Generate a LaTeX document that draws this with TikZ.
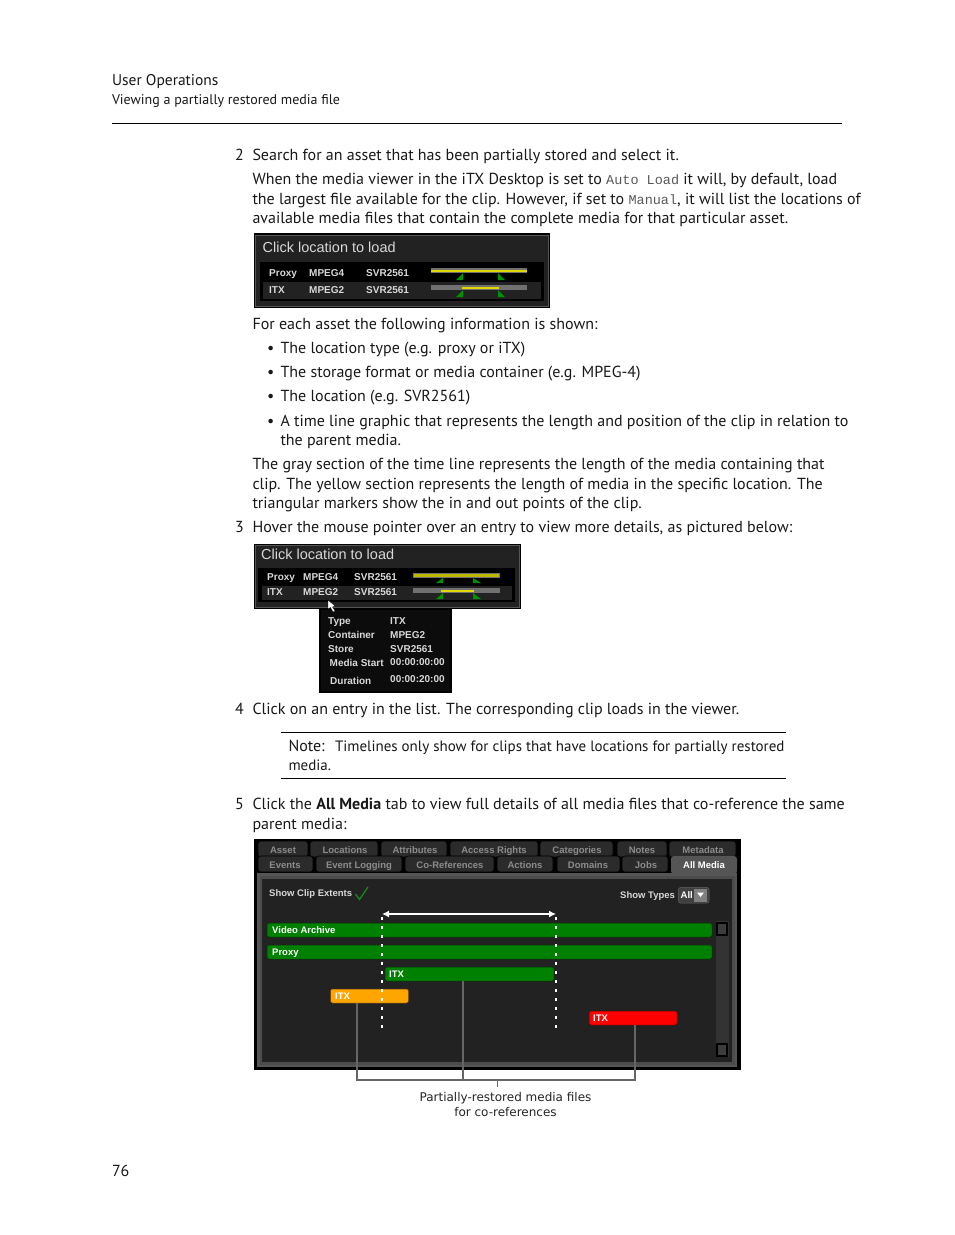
\documentclass[tikz,border=0pt]{standalone}
\usepackage{fontspec}
\setmainfont{PT Sans}
\setmonofont{Liberation Mono}
\newfontfamily\uifont{Liberation Sans}
\newfontfamily\capfont{DejaVu Sans}
\usetikzlibrary{arrows.meta}
\definecolor{panel}{HTML}{222222}
\definecolor{framegray}{HTML}{555555}
\definecolor{tabbg}{HTML}{2B2B2B}
\definecolor{uitext}{HTML}{D8D8D8}
\definecolor{tabtext}{HTML}{8C8C8C}
\definecolor{barg}{HTML}{008000}
\definecolor{baro}{HTML}{FFA500}
\definecolor{barr}{HTML}{FF0000}
\definecolor{tlgray}{HTML}{707070}
\definecolor{tlyellow}{HTML}{E0D800}
\definecolor{tri}{HTML}{009000}
\newcommand{\body}{\fontsize{16}{19}\selectfont}
\newcommand{\code}[1]{{\color{black!65}\ttfamily\fontsize{13.5}{16}\selectfont #1}}
\tikzset{
  txt/.style={anchor=base west,inner sep=0pt,outer sep=0pt,font=\body,text=black!90},
  hdr/.style={txt,font=\fontsize{14}{17}\selectfont},
  uit/.style={anchor=base west,inner sep=0pt,text=uitext,font=\uifont\bfseries\fontsize{10}{12}\selectfont},
  tlt/.style={anchor=base west,inner sep=0pt,text=uitext,font=\uifont\fontsize{14.5}{17}\selectfont},
  tabt/.style={anchor=base,inner sep=0pt,text=tabtext,font=\uifont\bfseries\fontsize{9.5}{12}\selectfont},
  tabbox/.style={fill=tabbg,draw=black,line width=.6pt,rounded corners=3pt},
  clipbar/.style={rectangle,rounded corners=2pt,inner sep=0pt,draw=black!60!#1,line width=.5pt,fill=#1},
  barlab/.style={anchor=base west,inner sep=0pt,text=white,font=\uifont\bfseries\fontsize{9.5}{12}\selectfont},
  callout/.style={draw=black!60,line width=1.2pt},
  dots/.style={draw=white,line width=1.4pt,dash pattern=on 3pt off 6pt},
  mark/.style={},
}
\begin{document}
\begin{tikzpicture}[x=1pt,y=-1pt]
\useasboundingbox (0,0) rectangle (954,1235);
\fill[white] (0,0) rectangle (954,1235);
% header
\node[txt,font=\fontsize{15.5}{18}\selectfont] (h1) at (112,85) {User Operations};
\node[hdr] (h2) at (112,104) {Viewing a partially restored media file};
\draw[black,line width=.8pt] (112,123.5) -- (842,123.5);
\node[txt] (n2) at (235,160) {2};
\node[txt] (l1) at (252.5,160) {Search for an asset that has been partially stored and select it.};
\node[txt] (l2) at (252.5,184) {When the media viewer in the iTX Desktop is set to \code{Auto Load} it will, by default, load};
\node[txt] (l3) at (252.5,204) {the largest file available for the clip. However, if set to \code{Manual}, it will list the locations of};
\node[txt] (l4) at (252.5,223) {available media files that contain the complete media for that particular asset.};
% panel 1
\fill[black] (254,233) rectangle (550,308);
\draw[framegray,line width=1pt,fill=panel] (255.5,235) rectangle (548.5,306);
\fill[black] (259,261) rectangle (545,302);
\draw[panel,line width=.8pt] (259.5,261.5) rectangle (544.5,301.5);
\fill[panel] (263,282) rectangle (541,299);
\node[tlt] (p1t) at (262.5,252) {Click location to load};
\node[uit] (p1a) at (269,276) {Proxy};
\node[uit] (p1b) at (309,276) {MPEG4};
\node[uit] (p1c) at (366,276) {SVR2561};
\node[uit] (p1d) at (269,293) {ITX};
\node[uit] (p1e) at (309,293) {MPEG2};
\node[uit] (p1f) at (366,293) {SVR2561};
\fill[tlgray] (431,268) rectangle (527,273);
\fill[tlyellow] (431,269.5) rectangle (527,271.5);
\fill[tlgray] (431,285) rectangle (527,290);
\fill[tlyellow] (462,286.5) rectangle (499,288.5);
\fill[tri] (456,280) -- (463,273) -- (463,280) -- cycle;
\fill[tri] (498,273) -- (505,280) -- (498,280) -- cycle;
\fill[tri] (456,297) -- (463,290) -- (463,297) -- cycle;
\fill[tri] (498,290) -- (505,297) -- (498,297) -- cycle;
% middle text
\node[txt] (l5) at (252.5,329) {For each asset the following information is shown:};
\node[txt] (b1) at (267,353) {•};
\node[txt] (l6) at (280.5,353) {The location type (e.g. proxy or iTX)};
\node[txt] (b2) at (267,377) {•};
\node[txt] (l7) at (280.5,377) {The storage format or media container (e.g. MPEG-4)};
\node[txt] (b3) at (267,401) {•};
\node[txt] (l8) at (280.5,401) {The location (e.g. SVR2561)};
\node[txt] (b4) at (267,426) {•};
\node[txt] (l9) at (280.5,426) {A time line graphic that represents the length and position of the clip in relation to};
\node[txt] (l10) at (280.5,445) {the parent media.};
\node[txt] (l11) at (252.5,469) {The gray section of the time line represents the length of the media containing that};
\node[txt] (l12) at (252.5,489) {clip. The yellow section represents the length of media in the specific location. The};
\node[txt] (l13) at (252.5,508) {triangular markers show the in and out points of the clip.};
\node[txt] (n3) at (235,532) {3};
\node[txt] (l14) at (252.5,532) {Hover the mouse pointer over an entry to view more details, as pictured below:};
% panel 2
\fill[black] (254,544) rectangle (521,609);
\draw[framegray,line width=1pt,fill=panel] (255.5,545) rectangle (519,607);
\fill[black] (258,568) rectangle (515,602);
\fill[panel] (262,586) rectangle (512,600);
\node[tlt] (p2t) at (261,559.5) {Click location to load};
\node[uit] (p2a) at (267,580.5) {Proxy};
\node[uit] (p2b) at (303,580.5) {MPEG4};
\node[uit] (p2c) at (354,580.5) {SVR2561};
\node[uit] (p2d) at (267,595.5) {ITX};
\node[uit] (p2e) at (303,595.5) {MPEG2};
\node[uit] (p2f) at (354,595.5) {SVR2561};
\fill[tlgray] (413,573) rectangle (500,578);
\fill[tlyellow!85!black] (414,574) rectangle (499,577);
\fill[tlgray] (413,588) rectangle (500,593);
\fill[tlyellow] (441,589.5) rectangle (474,591.5);
\fill[tri] (436,583) -- (443,578) -- (443,583) -- cycle;
\fill[tri] (473,578) -- (481,583) -- (473,583) -- cycle;
\fill[tri] (436,599) -- (443,593) -- (443,599) -- cycle;
\fill[tri] (473,593) -- (481,599) -- (473,599) -- cycle;
% tooltip
\fill[black] (318.5,608) rectangle (451.5,693);
\fill[panel!110] (321,610) rectangle (449.5,691);
\fill[white,draw=black,line width=.3pt] (328,600) -- (328,609) -- (330.5,607.5) -- (333,612) -- (335,611) -- (332.5,607) -- (335,606) -- cycle;
\node[uit] (t1) at (328,624) {Type};
\node[uit] (t2) at (390,624) {ITX};
\node[uit] (t3) at (328,638) {Container};
\node[uit] (t4) at (390,638) {MPEG2};
\node[uit] (t5) at (328,652) {Store};
\node[uit] (t6) at (390,652) {SVR2561};
\node[uit] (t7) at (329.5,666) {Media Start};
\node[uit] (t8) at (390,665) {00:00:00:00};
\node[uit] (t9) at (330,684) {Duration};
\node[uit] (t10) at (390,682) {00:00:20:00};
% step 4, note
\node[txt] (n4) at (235,714) {4};
\node[txt] (l15) at (252.5,714) {Click on an entry in the list. The corresponding clip loads in the viewer.};
\draw[black,line width=.7pt] (281,732.5) -- (786,732.5);
\node[txt] (note) at (288.5,751) {Note:};
\node[txt,font=\fontsize{15}{18}\selectfont] (l16) at (335,751) {Timelines only show for clips that have locations for partially restored};
\node[txt,font=\fontsize{15}{18}\selectfont] (l17) at (288.5,770) {media.};
\draw[black,line width=.7pt] (281,778.5) -- (786,778.5);
\node[txt] (n5) at (235,809) {5};
\node[txt] (l18) at (252.5,809) {Click the \textbf{All Media} tab to view full details of all media files that co-reference the same};
\node[txt] (l19) at (252.5,829) {parent media:};
% panel 3
\fill[black] (254,839) rectangle (741,1070);
\foreach \a/\b in {258/308,310/378,381/447,450/538,540/613,617/667,669/736}
  \draw[tabbox] (\a,857) -- (\a,841) -- (\b,841) -- (\b,857) -- cycle;
\foreach \a/\b in {258/313,316/402,405/494,497/553,557/620,622/668}
  \draw[tabbox] (\a,872) -- (\a,856) -- (\b,856) -- (\b,872) -- cycle;
\fill[framegray] (257,873) rectangle (737,1067);
\fill[black!70] (259.5,876) rectangle (734.5,1064.5);
\fill[rounded corners=3pt,framegray] (671,874) -- (671,856) -- (737,856) -- (737,874) -- cycle;
\fill[panel] (262,879) rectangle (732,1062);
\node[tabt] (ta) at (283,853) {Asset};
\node[tabt] (tb) at (345,853) {Locations};
\node[tabt] (tc) at (415,853) {Attributes};
\node[tabt] (td) at (494,853) {Access Rights};
\node[tabt] (te) at (577,853) {Categories};
\node[tabt] (tf) at (642,853) {Notes};
\node[tabt] (tg) at (703,853) {Metadata};
\node[tabt] (th) at (285,868) {Events};
\node[tabt] (ti) at (359,868) {Event Logging};
\node[tabt] (tj) at (450,868) {Co-References};
\node[tabt] (tk) at (525,868) {Actions};
\node[tabt] (tl) at (588,868) {Domains};
\node[tabt] (tm) at (646,868) {Jobs};
\node[tabt,text=white] (tn) at (704,868) {All Media};
\node[uit,font=\uifont\bfseries\fontsize{9.5}{12}\selectfont] (sc) at (269,896.5) {Show Clip Extents};
\draw[barg!90!white,line width=1.2pt] (355.5,894) -- (359.5,899.5) -- (368,887);
\node[uit,font=\uifont\bfseries\fontsize{9.5}{12}\selectfont] (st) at (620,898.5) {Show Types};
\draw[black!60,fill=black!75,rounded corners=2pt,line width=.5pt] (678.5,887.5) rectangle (709,903);
\fill[black!50] (694,889) rectangle (707,901.5);
\node[uit,text=white,font=\uifont\bfseries\fontsize{9.5}{12}\selectfont] (sa) at (680.5,898.5) {All};
\fill[white] (697,892.5) -- (704,892.5) -- (700.5,897) -- cycle;
% bars
\node[clipbar=barg,minimum width=445pt,minimum height=14pt] (va) at (489.5,930) {};
\node[clipbar=barg,minimum width=445pt,minimum height=14pt] (px) at (489.5,952) {};
\node[clipbar=barg,minimum width=169pt,minimum height=14pt] (gi) at (469.5,974) {};
\node[clipbar=baro,minimum width=78pt,minimum height=14pt] (oi) at (369.5,996) {};
\node[clipbar=barr,minimum width=88pt,minimum height=14pt] (ri) at (633,1018) {};
\node[barlab] (val) at (272,933.5) {Video Archive};
\node[barlab] (pxl) at (272,955.5) {Proxy};
\node[barlab] (gil) at (389,977.5) {ITX};
\node[barlab] (oil) at (335,999.5) {ITX};
\node[barlab] (ril) at (593,1021.5) {ITX};
% extents
\coordinate (el) at (382,914);
\coordinate (er) at (556,914);
\draw[dots] (382,917) -- (382,1029);
\draw[dots] (556,917) -- (556,1029);
\draw[white,line width=1.3pt,{Latex[length=7pt,width=7pt]}-{Latex[length=7pt,width=7pt]}] (el) -- (er);
% scroll
\fill[black!80] (716,921) rectangle (729,1057);
\draw[black,fill=framegray!70!black,line width=1.2pt] (717,923) rectangle (727,935);
\draw[black,fill=framegray!70!black,line width=1.2pt] (717,1044) rectangle (727,1056);
% callouts
\coordinate (ja) at (357,1080);
\coordinate (jb) at (463,1080);
\coordinate (jc) at (635,1080);
\coordinate (jd) at (497,1080);
\coordinate (je) at (497,1087);
\draw[callout] (ja |- oi.south) -- (ja) -- (jc) -- (jc |- ri.south);
\draw[callout] (jb |- gi.south) -- (jb);
\draw[black!60,line width=.8pt] (jd) -- (je);
\node[anchor=base,inner sep=0pt,text=black!85,font=\capfont\fontsize{12}{14}\selectfont] (c1) at (505.5,1101) {Partially-restored media files};
\node[anchor=base,inner sep=0pt,text=black!85,font=\capfont\fontsize{12}{14}\selectfont] (c2) at (505.5,1116) {for co-references};
\node[txt] (pg) at (112,1176) {76};
\end{tikzpicture}
\end{document}
